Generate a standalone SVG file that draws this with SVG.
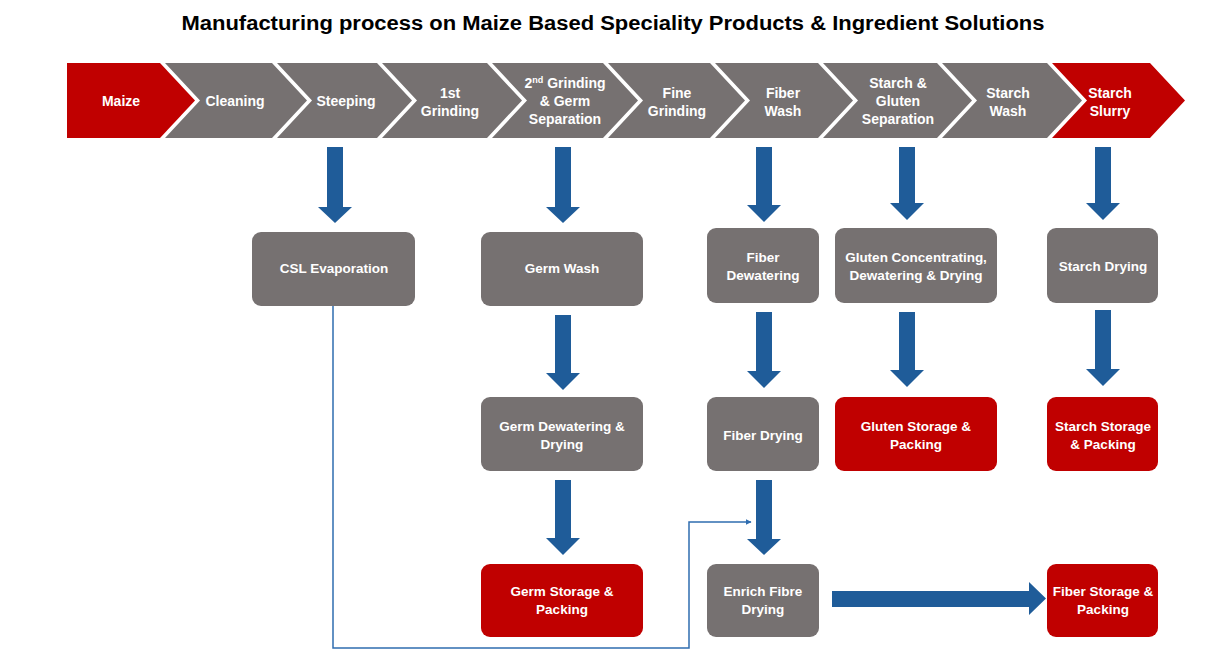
<svg xmlns="http://www.w3.org/2000/svg" width="1210" height="652" viewBox="0 0 1210 652">
<defs>
<style>
.red{fill:#C00000}
.gray{fill:#767171}
.blue{fill:#1F5C99}
.t{font-family:"Liberation Sans",Arial,sans-serif;font-weight:bold;fill:#ffffff;text-anchor:middle}
.c{font-size:14px}
.b{font-size:13.5px}
.title{font-family:"Liberation Sans",Arial,sans-serif;font-weight:bold;font-size:20px;fill:#000000;text-anchor:middle}
.thin{fill:none;stroke:#2F6DB0;stroke-width:1.5}
</style>
<marker id="ah" viewBox="0 0 10 10" refX="9" refY="5" markerWidth="6" markerHeight="6" orient="auto" markerUnits="userSpaceOnUse">
<path d="M0,0 L10,5 L0,10 Z" fill="#2F6DB0"/>
</marker>
</defs>
<rect width="1210" height="652" fill="#ffffff"/>
<text class="title" x="613" y="30" textLength="863" lengthAdjust="spacingAndGlyphs">Manufacturing process on Maize Based Speciality Products &amp; Ingredient Solutions</text>

<g id="step-maize"><path class="red" d="M67,63 L160,63 L195,100.5 L160,138 L67,138 Z"/><text class="t c" x="121" y="106">Maize</text></g>
<g id="step-cleaning"><path class="gray" d="M165,63 L272,63 L307,100.5 L272,138 L165,138 L200,100.5 Z"/><text class="t c" x="235" y="106">Cleaning</text></g>
<g id="step-steeping"><path class="gray" d="M277,63 L377,63 L412,100.5 L377,138 L277,138 L312,100.5 Z"/><text class="t c" x="346" y="106">Steeping</text></g>
<g id="step-1st-grinding"><path class="gray" d="M382,63 L487,63 L522,100.5 L487,138 L382,138 L417,100.5 Z"/><text class="t c" x="450" y="98">1st</text><text class="t c" x="450" y="116">Grinding</text></g>
<g id="step-2nd-grinding"><path class="gray" d="M492,63 L603,63 L638,100.5 L603,138 L492,138 L527,100.5 Z"/><text class="t c" x="565" y="88">2<tspan font-size="9" dy="-5">nd</tspan><tspan dy="5"> Grinding</tspan></text><text class="t c" x="565" y="106">&amp; Germ</text><text class="t c" x="565" y="124">Separation</text></g>
<g id="step-fine-grinding"><path class="gray" d="M608,63 L710,63 L745,100.5 L710,138 L608,138 L643,100.5 Z"/><text class="t c" x="677" y="98">Fine</text><text class="t c" x="677" y="116">Grinding</text></g>
<g id="step-fiber-wash"><path class="gray" d="M715,63 L818,63 L853,100.5 L818,138 L715,138 L750,100.5 Z"/><text class="t c" x="783" y="98">Fiber</text><text class="t c" x="783" y="116">Wash</text></g>
<g id="step-starch-gluten-sep"><path class="gray" d="M823,63 L937,63 L972,100.5 L937,138 L823,138 L858,100.5 Z"/><text class="t c" x="898" y="88">Starch &amp;</text><text class="t c" x="898" y="106">Gluten</text><text class="t c" x="898" y="124">Separation</text></g>
<g id="step-starch-wash"><path class="gray" d="M942,63 L1047,63 L1082,100.5 L1047,138 L942,138 L977,100.5 Z"/><text class="t c" x="1008" y="98">Starch</text><text class="t c" x="1008" y="116">Wash</text></g>
<g id="step-starch-slurry"><path class="red" d="M1052,63 L1150,63 L1185,100.5 L1150,138 L1052,138 L1087,100.5 Z"/><text class="t c" x="1110" y="98">Starch</text><text class="t c" x="1110" y="116">Slurry</text></g>

<g id="csl-evaporation"><rect class="gray" x="252" y="232" width="163" height="74" rx="9"/><text class="t b" x="334" y="273">CSL Evaporation</text></g>
<g id="germ-wash"><rect class="gray" x="481" y="232" width="162" height="74" rx="9"/><text class="t b" x="562" y="273">Germ Wash</text></g>
<g id="fiber-dewatering"><rect class="gray" x="707" y="228" width="112" height="75" rx="9"/><text class="t b" x="763" y="262">Fiber</text><text class="t b" x="763" y="280">Dewatering</text></g>
<g id="gluten-concentrating"><rect class="gray" x="835" y="228" width="162" height="75" rx="9"/><text class="t b" x="916" y="262">Gluten Concentrating,</text><text class="t b" x="916" y="280">Dewatering &amp; Drying</text></g>
<g id="starch-drying"><rect class="gray" x="1047" y="228" width="111" height="75" rx="9"/><text class="t b" x="1103" y="271">Starch Drying</text></g>

<g id="germ-dewatering"><rect class="gray" x="481" y="397" width="162" height="74" rx="9"/><text class="t b" x="562" y="431">Germ Dewatering &amp;</text><text class="t b" x="562" y="449">Drying</text></g>
<g id="fiber-drying"><rect class="gray" x="707" y="397" width="112" height="74" rx="9"/><text class="t b" x="763" y="440">Fiber Drying</text></g>
<g id="gluten-storage"><rect class="red" x="835" y="397" width="162" height="74" rx="9"/><text class="t b" x="916" y="431">Gluten Storage &amp;</text><text class="t b" x="916" y="449">Packing</text></g>
<g id="starch-storage"><rect class="red" x="1047" y="397" width="111" height="74" rx="9"/><text class="t b" x="1103" y="431">Starch Storage</text><text class="t b" x="1103" y="449">&amp; Packing</text></g>

<g id="germ-storage"><rect class="red" x="481" y="564" width="162" height="73" rx="9"/><text class="t b" x="562" y="596">Germ Storage &amp;</text><text class="t b" x="562" y="614">Packing</text></g>
<g id="enrich-fibre-drying"><rect class="gray" x="707" y="564" width="112" height="73" rx="9"/><text class="t b" x="763" y="596">Enrich Fibre</text><text class="t b" x="763" y="614">Drying</text></g>
<g id="fiber-storage"><rect class="red" x="1047" y="564" width="111" height="73" rx="9"/><text class="t b" x="1103" y="596">Fiber Storage &amp;</text><text class="t b" x="1103" y="614">Packing</text></g>

<g id="connectors">
<path class="blue" d="M327,147 H343 V207 H352 L335,223 L318,207 H327 Z"/>
<path class="blue" d="M555,147 H571 V207 H580 L563,223 L546,207 H555 Z"/>
<path class="blue" d="M756,147 H772 V205 H781 L764,222 L747,205 H756 Z"/>
<path class="blue" d="M899,147 H915 V203 H924 L907,220 L890,203 H899 Z"/>
<path class="blue" d="M1095,147 H1111 V203 H1120 L1103,220 L1086,203 H1095 Z"/>
<path class="blue" d="M555,315 H571 V373 H580 L563,390 L546,373 H555 Z"/>
<path class="blue" d="M756,312 H772 V371 H781 L764,388 L747,371 H756 Z"/>
<path class="blue" d="M899,312 H915 V370 H924 L907,387 L890,370 H899 Z"/>
<path class="blue" d="M1095,310 H1111 V369 H1120 L1103,386 L1086,369 H1095 Z"/>
<path class="blue" d="M555,480 H571 V538 H580 L563,555 L546,538 H555 Z"/>
<path class="blue" d="M756,480 H772 V539 H781 L764,555 L747,539 H756 Z"/>
<path class="blue" d="M832,591 H1029 V582 L1046,598.5 L1029,615 V607 H832 Z"/>
<path class="thin" d="M333,306 V648 H689 V522 H751" marker-end="url(#ah)"/>
</g>
</svg>
